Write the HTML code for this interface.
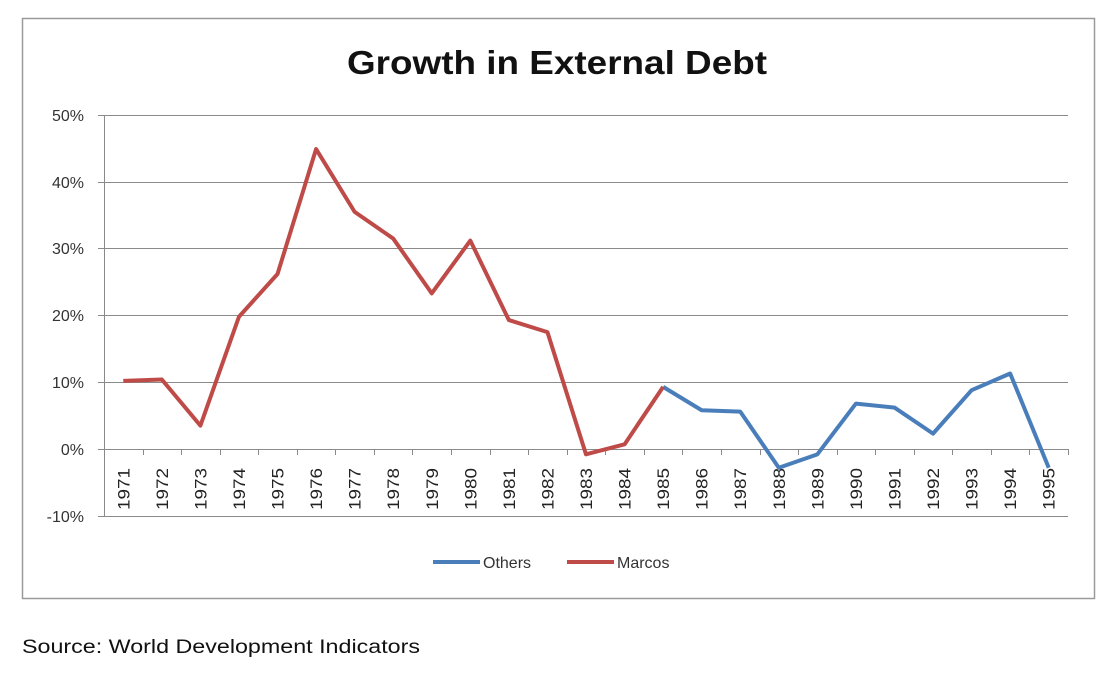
<!DOCTYPE html>
<html><head><style>
body{margin:0;background:#fff;width:1120px;height:673px;overflow:hidden}
</style></head><body>
<svg width="1120" height="673" xmlns="http://www.w3.org/2000/svg" font-family="Liberation Sans, sans-serif">
<rect x="22.5" y="18.5" width="1072" height="580" fill="#fff" stroke="#9a9a9a" stroke-width="1.5"/>
<text x="347" y="74" font-size="33" font-weight="bold" fill="#111" textLength="420" lengthAdjust="spacingAndGlyphs">Growth in External Debt</text>
<g stroke="#8a8a8a" stroke-width="1">
<line x1="98" y1="115.5" x2="1068" y2="115.5"/>
<line x1="98" y1="182.5" x2="1068" y2="182.5"/>
<line x1="98" y1="248.5" x2="1068" y2="248.5"/>
<line x1="98" y1="315.5" x2="1068" y2="315.5"/>
<line x1="98" y1="382.5" x2="1068" y2="382.5"/>
<line x1="98" y1="449.5" x2="1068" y2="449.5"/>
<line x1="98" y1="516.5" x2="1068" y2="516.5"/>
<line x1="104.5" y1="115" x2="104.5" y2="516"/>
</g>
<g stroke="#8a8a8a" stroke-width="1" id="ticks"></g>
<g font-size="16" fill="#333" text-anchor="end">
<text x="84" y="121">50%</text><text x="84" y="188">40%</text><text x="84" y="254">30%</text>
<text x="84" y="321">20%</text><text x="84" y="388">10%</text><text x="84" y="455">0%</text><text x="84" y="522">-10%</text>
</g>
<g id="labels" font-size="17" fill="#222"></g>
<polyline id="others" fill="none" stroke="#4a7ebb" stroke-width="4" stroke-linejoin="round"/>
<polyline id="marcos" fill="none" stroke="#be4b48" stroke-width="4" stroke-linejoin="round"/>
<line x1="433" y1="562" x2="480" y2="562" stroke="#4a7ebb" stroke-width="4"/>
<text x="483" y="568" font-size="16" fill="#333">Others</text>
<line x1="567" y1="562" x2="614" y2="562" stroke="#be4b48" stroke-width="4"/>
<text x="617" y="568" font-size="16" fill="#333">Marcos</text>
<text x="22" y="653" font-size="19" fill="#111" textLength="398" lengthAdjust="spacingAndGlyphs">Source: World Development  Indicators</text>
</svg>
<script>
var L=104,W=38.56,Z=449,S=6.68;
var X=function(i){return L+W*(i+0.5)},Y=function(v){return Z-v*S};
var t=document.getElementById('ticks'),lb=document.getElementById('labels'),ns='http://www.w3.org/2000/svg';
for(var i=0;i<=25;i++){var l=document.createElementNS(ns,'line');var x=Math.round(L+W*i)+0.5;l.setAttribute('x1',x);l.setAttribute('x2',x);l.setAttribute('y1',449);l.setAttribute('y2',455);t.appendChild(l);}
for(var i=0;i<25;i++){var tx=document.createElementNS(ns,'text');var x=X(i)+6,y=510;tx.setAttribute('x',x);tx.setAttribute('y',y);tx.setAttribute('transform','rotate(-90 '+x+' '+y+')');tx.setAttribute('textLength','42');tx.setAttribute('lengthAdjust','spacingAndGlyphs');tx.textContent=1971+i;lb.appendChild(tx);}
var m=[10.2,10.4,3.5,19.8,26.2,44.9,35.5,31.5,23.3,31.2,19.3,17.5,-0.8,0.7,9.3];
var o=[9.3,5.8,5.6,-2.8,-0.8,6.8,6.2,2.3,8.8,11.3,-2.8];
document.getElementById('marcos').setAttribute('points',m.map(function(v,i){return X(i)+','+Y(v)}).join(' '));
document.getElementById('others').setAttribute('points',o.map(function(v,i){return X(i+14)+','+Y(v)}).join(' '));
</script>
</body></html>
